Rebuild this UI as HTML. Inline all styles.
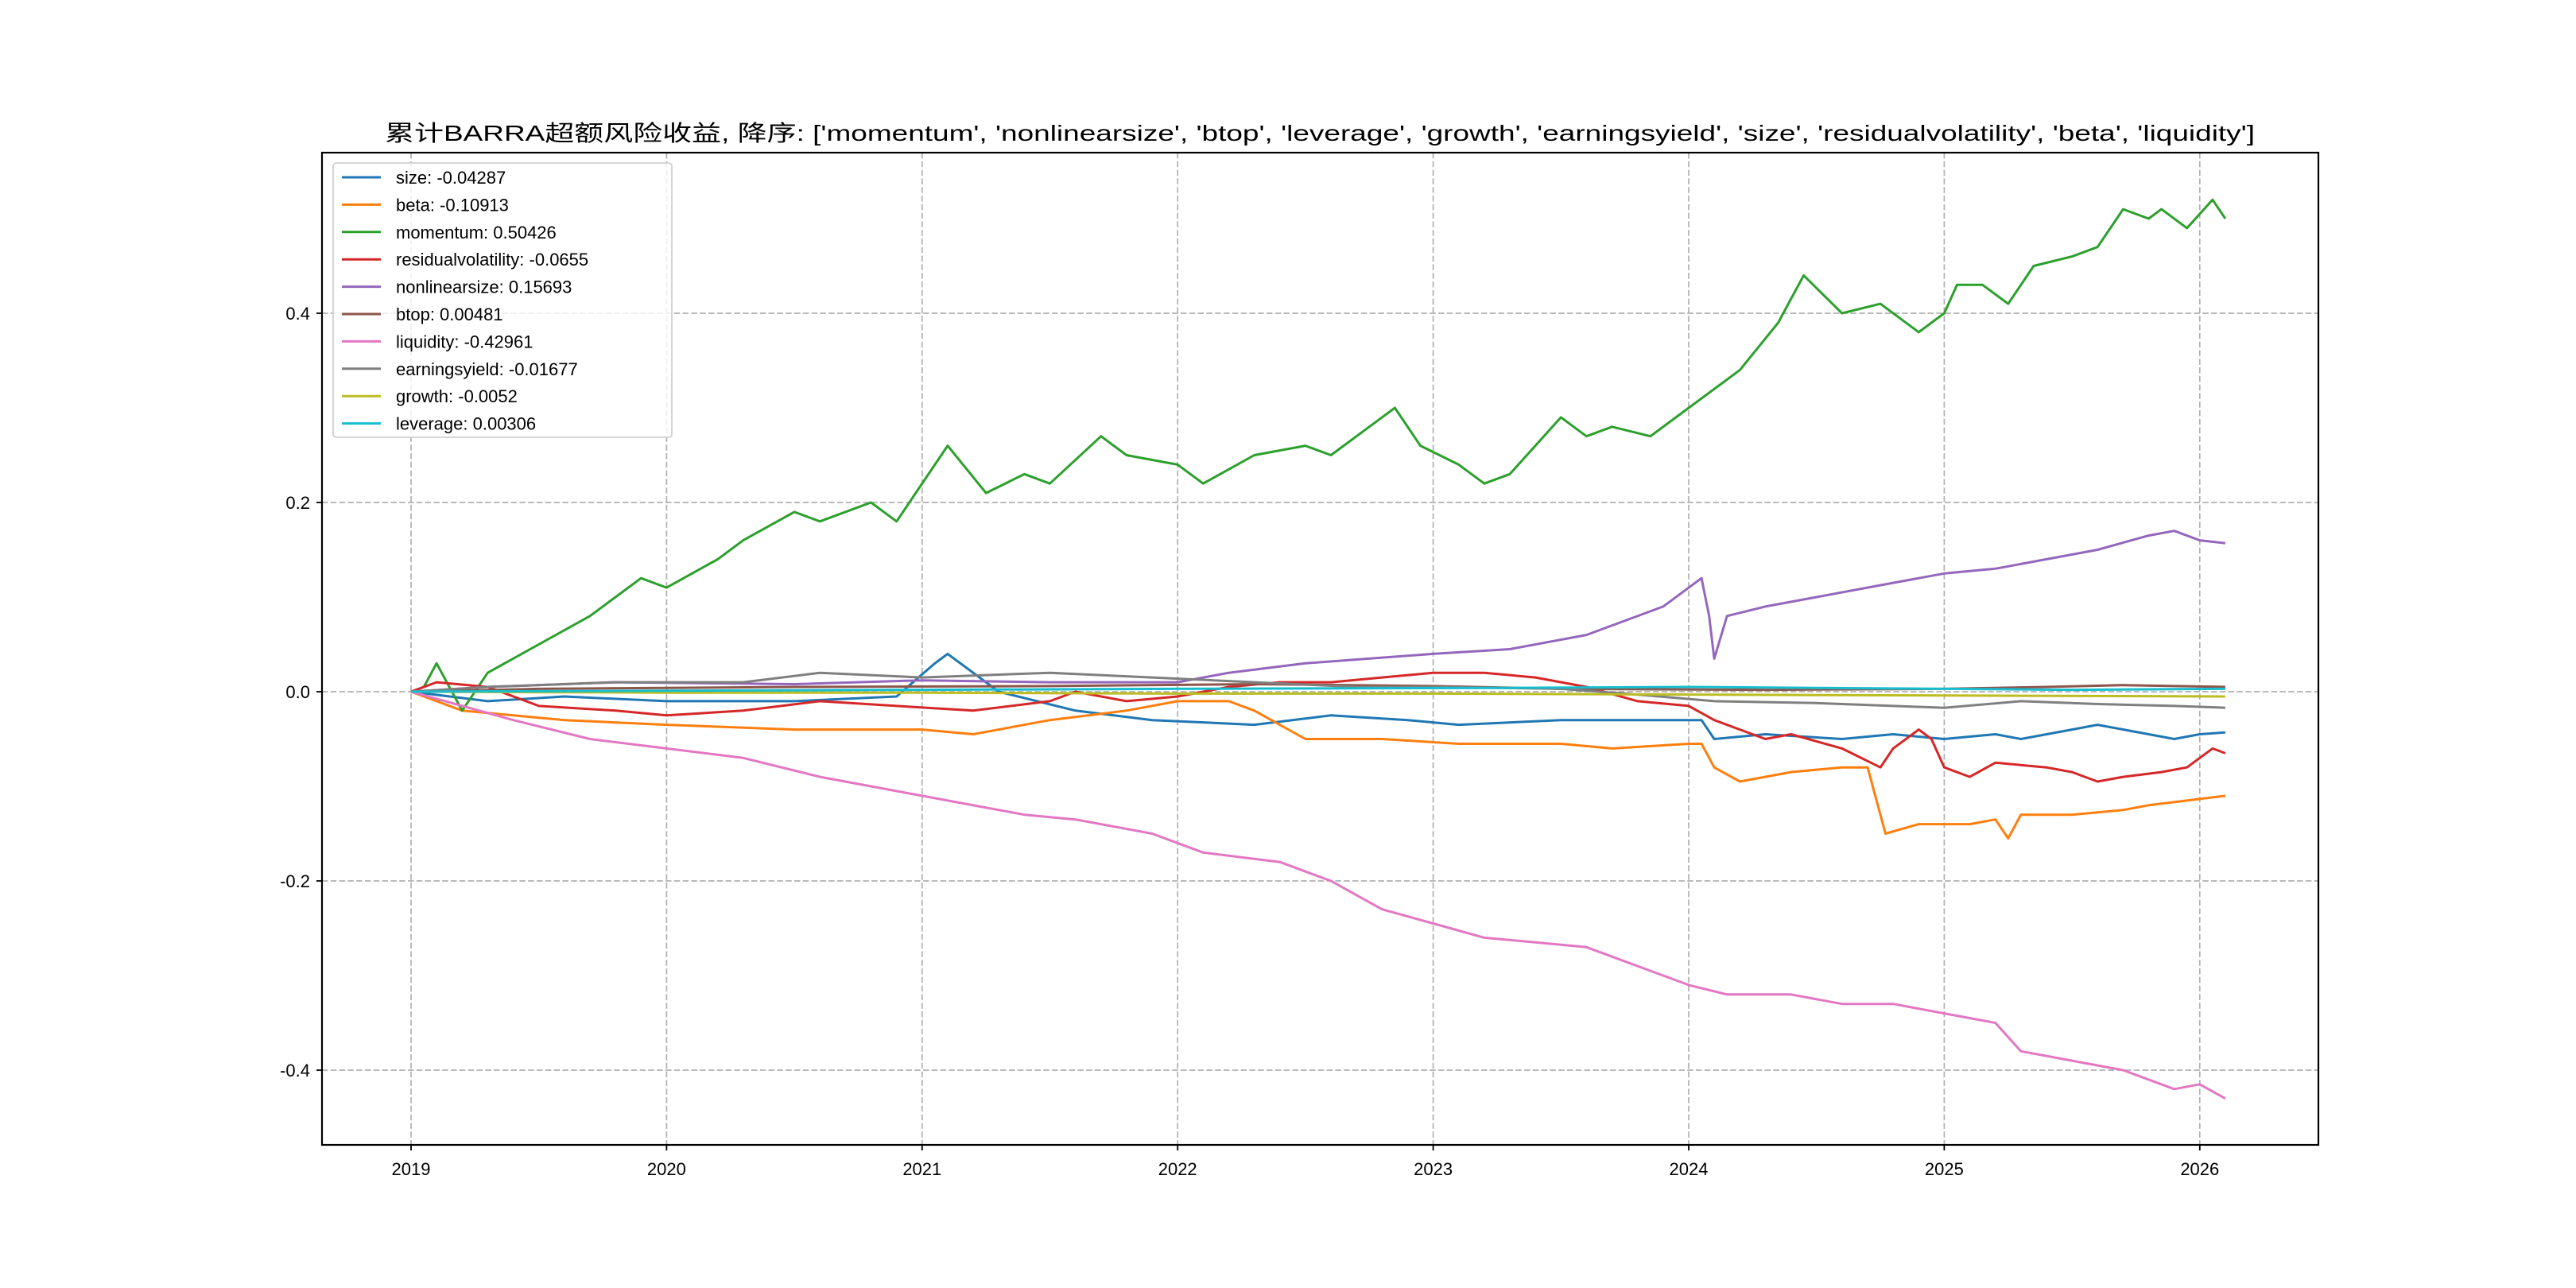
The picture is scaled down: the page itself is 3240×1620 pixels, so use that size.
<!DOCTYPE html>
<html><head><meta charset="utf-8">
<style>
html,body{margin:0;padding:0;background:#fff;}
svg{display:block;}
text{font-family:"Liberation Sans","Noto Sans CJK SC",sans-serif;fill:#000;}
</style></head>
<body>
<svg id="chart" width="3240" height="1620" viewBox="0 0 3240 1620" xmlns="http://www.w3.org/2000/svg">
<rect x="0" y="0" width="3240" height="1620" fill="#fff"/>
<text x="1660" y="177" font-size="28" text-anchor="middle" textLength="2352" lengthAdjust="spacingAndGlyphs">累计BARRA超额风险收益,  降序: ['momentum', 'nonlinearsize', 'btop', 'leverage', 'growth', 'earningsyield', 'size', 'residualvolatility', 'beta', 'liquidity']</text>
<g id="grid"></g>
<g id="series"></g>
<rect x="405" y="192" width="2511" height="1248" fill="none" stroke="#000" stroke-width="2.2"/>
<g id="axes"></g>
<g id="legend"></g>
</svg>
<script>
const names = ['size','beta','momentum','residualvolatility','nonlinearsize','btop','liquidity','earningsyield','growth','leverage'];
const finals = ['-0.04287','-0.10913','0.50426','-0.0655','0.15693','0.00481','-0.42961','-0.01677','-0.0052','0.00306'];
const colors = ['#1f77b4','#ff7f0e','#2ca02c','#d62728','#9467bd','#8c564b','#e377c2','#7f7f7f','#bcbd22','#17becf'];
const xTicks = [2019,2020,2021,2022,2023,2024,2025,2026];
const yTicks = [-0.4,-0.2,0.0,0.2,0.4];
const yTickLabels = ['-0.4','-0.2','0.0','0.2','0.4'];

const sizeT = [2019,2019.3,2019.6,2020.0,2020.5,2020.9,2021.05,2021.1,2021.3,2021.6,2021.9,2022.3,2022.6,2022.9,2023.1,2023.5,2023.9,2024.05,2024.1,2024.3,2024.6,2024.8,2025.0,2025.2,2025.3,2025.5,2025.6,2025.8,2025.9,2026.0,2026.1];
const sizeV = [0,-0.01,-0.005,-0.01,-0.01,-0.005,0.03,0.04,0.0,-0.02,-0.03,-0.035,-0.025,-0.03,-0.035,-0.03,-0.03,-0.03,-0.05,-0.045,-0.05,-0.045,-0.05,-0.045,-0.05,-0.04,-0.035,-0.045,-0.05,-0.045,-0.043];
const betaT = [2019,2019.2,2019.6,2020.0,2020.5,2021.0,2021.2,2021.5,2021.8,2022.0,2022.2,2022.3,2022.5,2022.8,2023.1,2023.5,2023.7,2024.0,2024.05,2024.1,2024.2,2024.4,2024.6,2024.7,2024.77,2024.9,2025.1,2025.2,2025.25,2025.3,2025.5,2025.7,2025.8,2025.95,2026.1];
const betaV = [0,-0.02,-0.03,-0.035,-0.04,-0.04,-0.045,-0.03,-0.02,-0.01,-0.01,-0.02,-0.05,-0.05,-0.055,-0.055,-0.06,-0.055,-0.055,-0.08,-0.095,-0.085,-0.08,-0.08,-0.15,-0.14,-0.14,-0.135,-0.155,-0.13,-0.13,-0.125,-0.12,-0.115,-0.11];
const momT = [2019,2019.05,2019.1,2019.2,2019.3,2019.5,2019.7,2019.9,2020.0,2020.2,2020.3,2020.5,2020.6,2020.8,2020.9,2021.0,2021.1,2021.25,2021.4,2021.5,2021.7,2021.8,2022.0,2022.1,2022.3,2022.5,2022.6,2022.8,2022.85,2022.95,2023.1,2023.2,2023.3,2023.5,2023.6,2023.7,2023.85,2024.0,2024.2,2024.35,2024.45,2024.6,2024.75,2024.9,2025.0,2025.05,2025.15,2025.25,2025.35,2025.5,2025.6,2025.7,2025.8,2025.85,2025.95,2026.05,2026.1];
const momV = [0,0.005,0.03,-0.02,0.02,0.05,0.08,0.12,0.11,0.14,0.16,0.19,0.18,0.20,0.18,0.22,0.26,0.21,0.23,0.22,0.27,0.25,0.24,0.22,0.25,0.26,0.25,0.29,0.30,0.26,0.24,0.22,0.23,0.29,0.27,0.28,0.27,0.30,0.34,0.39,0.44,0.40,0.41,0.38,0.40,0.43,0.43,0.41,0.45,0.46,0.47,0.51,0.50,0.51,0.49,0.52,0.50];
const resT = [2019,2019.1,2019.3,2019.5,2019.8,2020.0,2020.3,2020.6,2020.9,2021.2,2021.5,2021.6,2021.8,2022.0,2022.2,2022.4,2022.6,2022.8,2023.0,2023.2,2023.4,2023.6,2023.8,2024.0,2024.1,2024.2,2024.3,2024.4,2024.6,2024.75,2024.8,2024.9,2024.95,2025.0,2025.1,2025.2,2025.4,2025.5,2025.6,2025.7,2025.85,2025.95,2026.05,2026.1];
const resV = [0,0.01,0.005,-0.015,-0.02,-0.025,-0.02,-0.01,-0.015,-0.02,-0.01,0.0,-0.01,-0.005,0.005,0.01,0.01,0.015,0.02,0.02,0.015,0.005,-0.01,-0.015,-0.03,-0.04,-0.05,-0.045,-0.06,-0.08,-0.06,-0.04,-0.05,-0.08,-0.09,-0.075,-0.08,-0.085,-0.095,-0.09,-0.085,-0.08,-0.06,-0.065];
const nlsT = [2019,2019.3,2019.8,2020.5,2021.0,2021.5,2022.0,2022.2,2022.5,2023.0,2023.3,2023.6,2023.9,2024.05,2024.08,2024.1,2024.15,2024.3,2024.5,2024.8,2025.0,2025.2,2025.4,2025.6,2025.8,2025.9,2026.0,2026.1];
const nlsV = [0,0.005,0.01,0.008,0.012,0.01,0.01,0.02,0.03,0.04,0.045,0.06,0.09,0.12,0.08,0.035,0.08,0.09,0.10,0.115,0.125,0.13,0.14,0.15,0.165,0.17,0.16,0.157];
const btopT = [2019,2019.5,2020.5,2021.5,2022.3,2023.0,2023.5,2024.3,2025.0,2025.4,2025.7,2026.1];
const btopV = [0,0.003,0.005,0.006,0.008,0.006,0.003,0.002,0.003,0.005,0.007,0.005];
const liqT = [2019,2019.4,2019.7,2020.0,2020.3,2020.6,2020.8,2021.1,2021.4,2021.6,2021.9,2022.1,2022.4,2022.6,2022.8,2023.0,2023.2,2023.4,2023.6,2023.8,2024.0,2024.15,2024.4,2024.6,2024.8,2025.0,2025.2,2025.3,2025.5,2025.7,2025.9,2026.0,2026.1];
const liqV = [0,-0.03,-0.05,-0.06,-0.07,-0.09,-0.10,-0.115,-0.13,-0.135,-0.15,-0.17,-0.18,-0.20,-0.23,-0.245,-0.26,-0.265,-0.27,-0.29,-0.31,-0.32,-0.32,-0.33,-0.33,-0.34,-0.35,-0.38,-0.39,-0.40,-0.42,-0.415,-0.43];
const eyT = [2019,2019.3,2019.8,2020.3,2020.6,2021.0,2021.5,2021.9,2022.3,2022.7,2023.0,2023.5,2023.8,2024.1,2024.5,2024.8,2025.0,2025.3,2025.6,2025.9,2026.1];
const eyV = [0,0.005,0.01,0.01,0.02,0.015,0.02,0.015,0.01,0.005,0.005,0.003,-0.003,-0.01,-0.012,-0.015,-0.017,-0.01,-0.013,-0.015,-0.017];
const grT = [2019,2020,2021,2022,2023,2024,2025,2026.1];
const grV = [0,-0.001,-0.001,-0.002,-0.002,-0.003,-0.004,-0.005];
const levT = [2019,2020,2021,2022,2023.3,2024.0,2025.5,2026.1];
const levV = [0,0.001,0.002,0.003,0.004,0.005,0.002,0.003];

const seriesT = [sizeT,betaT,momT,resT,nlsT,btopT,liqT,eyT,grT,levT];
const seriesV = [sizeV,betaV,momV,resV,nlsV,btopV,liqV,eyV,grV,levV];

const NS='http://www.w3.org/2000/svg';
const X0=405,X1=2916,Y0=192,Y1=1440;
function xs(t){return 517+(t-2019)*321.4;}
function ys(v){return 870-v*1190;}
function mk(tag,attrs,parent){const e=document.createElementNS(NS,tag);for(const k in attrs)e.setAttribute(k,attrs[k]);parent.appendChild(e);return e;}
const grid=document.getElementById('grid'),axes=document.getElementById('axes'),ser=document.getElementById('series'),leg=document.getElementById('legend');

xTicks.forEach((t,i)=>{
  const x=xs(t);
  const g=mk('line',{x1:x,x2:x,y1:Y0,y2:Y1,stroke:'#b0b0b0','stroke-width':1.7,'stroke-dasharray':'7.5,3.3'},grid);
  
  
  const tk=mk('line',{x1:x,x2:x,y1:Y1,y2:Y1+7,stroke:'#000','stroke-width':1.8},axes);
  
  
  const tx=mk('text',{x:x,y:Y1+38,'font-size':22,'text-anchor':'middle'},axes);
  tx.textContent=String(t);
  
  
});
yTicks.forEach((v,i)=>{
  const y=ys(v);
  const g=mk('line',{x1:X0,x2:X1,y1:y,y2:y,stroke:'#b0b0b0','stroke-width':1.7,'stroke-dasharray':'7.5,3.3'},grid);
  
  
  const tk=mk('line',{x1:X0-7,x2:X0,y1:y,y2:y,stroke:'#000','stroke-width':1.8},axes);
  
  
  const tx=mk('text',{x:X0-15,y:y+8,'font-size':22,'text-anchor':'end'},axes);
  tx.textContent=yTickLabels[i];
  
  
});
seriesT.forEach((T,k)=>{
  const V=seriesV[k];
  const d=T.map((t,i)=>(i?'L':'M')+xs(t).toFixed(1)+','+ys(V[i]).toFixed(1)).join(' ');
  const p=mk('path',{d:d,fill:'none',stroke:colors[k],'stroke-width':3,'stroke-linejoin':'round'},ser);
  
  
});
const lb=mk('rect',{x:419,y:205,width:426,height:345,rx:4,fill:'#fff','fill-opacity':0.8,stroke:'#d0d0d0','stroke-width':1.8},leg);


names.forEach((n,k)=>{
  const y=223+k*34.4;
  const l=mk('line',{x1:430,x2:479,y1:y,y2:y,stroke:colors[k],'stroke-width':3},leg);
  
  
  const t=mk('text',{x:498,y:y+8,'font-size':22},leg);
  t.textContent=n+': '+finals[k];
  
  
});
</script>
</body></html>
